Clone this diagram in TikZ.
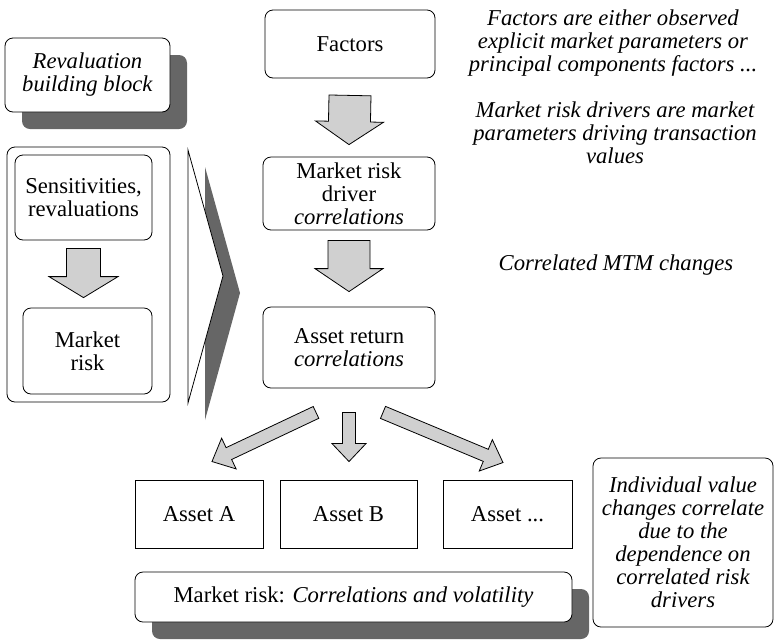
\documentclass[tikz,border=0pt]{standalone}
\usepackage{fontspec}
\setmainfont{Liberation Serif}
\usetikzlibrary{calc,shadows}

\definecolor{shadowgray}{HTML}{666666}
\definecolor{arrowgray}{HTML}{D0D0D0}

\tikzset{
	roundbox/.style={draw,line width=0.6pt,rounded corners=6pt,fill=white,align=center,inner sep=0pt},
	assetbox/.style={draw,line width=0.7pt,fill=white,align=center,inner sep=0pt,minimum width=#1,minimum height=51pt},
	shadowed/.style={drop shadow={shadow xshift=12.75pt,shadow yshift=-12.75pt,fill=shadowgray,opacity=1}},
	fatarrow/.style={draw,line width=0.6pt,fill=arrowgray,line join=miter}
}

% block arrow: start, tip, half shaft, half head, head length
\newcommand{\fatarrow}[5]{%
	\coordinate (fa-s) at #1;
	\coordinate (fa-t) at #2;
	\coordinate (fa-h) at ($(fa-t)!#5!(fa-s)$);
	\filldraw[fatarrow] ($(fa-s)!#3!90:(fa-t)$) -- ($(fa-h)!#3!90:(fa-t)$) -- ($(fa-h)!#4!90:(fa-t)$) -- (fa-t)
		-- ($(fa-h)!#4!-90:(fa-t)$) -- ($(fa-h)!#3!-90:(fa-t)$) -- ($(fa-s)!#3!-90:(fa-t)$) -- cycle;}

\begin{document}
\begin{tikzpicture}[x=0.75pt,y=-0.75pt,every node/.style={font=\fontsize{17}{17.25}\selectfont}]
		\useasboundingbox (0,0) rectangle (774,640);

		% left column
		\node[roundbox,shadowed,minimum width=123.75pt,minimum height=55.5pt] (reval) at (87.5,75) {\textit{Revaluation}\\\textit{building block}};
		\node[roundbox,minimum width=122.25pt,minimum height=191.25pt] (block) at (88.5,274.5) {};
		\node[roundbox,minimum width=102.75pt,minimum height=63.75pt] (sens) at (83.5,197.5) {Sensitivities,\\revaluations};
		\node[roundbox,minimum width=96.75pt,minimum height=64.5pt] (mrisk) at (87.5,351) {Market\\risk};
		\fatarrow{($(sens.south)+(0,8)$)}{($(sens.south |- mrisk.north)+(0,-10)$)}{12.75pt}{25.9pt}{15.75pt}

		% chevron
		\fill[shadowgray] (205,167) -- (240,293) -- (205,420) -- cycle;
		\filldraw[fill=white,line width=0.6pt] (188,150) -- (223,276) -- (188,403) -- cycle;

		% main column
		\node[roundbox,minimum width=127.5pt,minimum height=51pt] (factors) at (350,44) {Factors};
		\node[roundbox,minimum width=129pt,minimum height=54.75pt] (driver) at (349,193.5) {Market risk\\driver\\\textit{correlations}};
		\node[roundbox,minimum width=129pt,minimum height=60.75pt] (assetret) at (349,347.5) {Asset return\\\textit{correlations}};
		\fatarrow{($(factors.south)+(0,17)$)}{($(driver.north)+(0,-12)$)}{15.75pt}{25.5pt}{17.25pt}
		\fatarrow{($(driver.south)+(0,10)$)}{($(assetret.north)+(0,-15)$)}{15.75pt}{25.5pt}{17.25pt}

		% assets
		\node[assetbox=96pt] (assetA) at (199,514) {Asset A};
		\node[assetbox=102.75pt] (assetB) at (348.5,514) {Asset B};
		\node[assetbox=96.75pt] (assetX) at (507.5,514) {Asset ...};
		\fatarrow{($(assetret.south)+(-33,24)$)}{($(assetA.north)+(13,-18)$)}{4.9pt}{12.75pt}{14pt}
		\fatarrow{($(assetret.south)+(0,24)$)}{($(assetB.north)+(0.5,-18)$)}{4.9pt}{12.75pt}{13.5pt}
		\fatarrow{($(assetret.south)+(34,24)$)}{($(assetX.north)+(-4.5,-17)$)}{4.9pt}{12.75pt}{14pt}
		\node[roundbox,shadowed,minimum width=327.75pt,minimum height=37.5pt] (mrbar) at (353.5,597) {Market risk: \textit{Correlations and volatility}};

		% comments on the right
		\node[align=center,font=\fontsize{17}{17.25}\selectfont\itshape] (factnote) at (613,43) {Factors are either observed\\explicit market parameters or\\principal components factors ...};
		\node[align=center,font=\fontsize{17}{17.25}\selectfont\itshape] (drivernote) at (615,133) {Market risk drivers are market\\parameters driving transaction\\values};
		\node[font=\fontsize{17}{17.25}\selectfont\itshape] (mtmnote) at (616,265) {Correlated MTM changes};
		\node[roundbox,minimum width=135pt,minimum height=126.75pt,font=\fontsize{17}{17.25}\selectfont\itshape] (corrnote) at (683,542.5) {Individual value\\changes correlate\\due to the\\dependence on\\correlated risk\\drivers};
\end{tikzpicture}
\end{document}
